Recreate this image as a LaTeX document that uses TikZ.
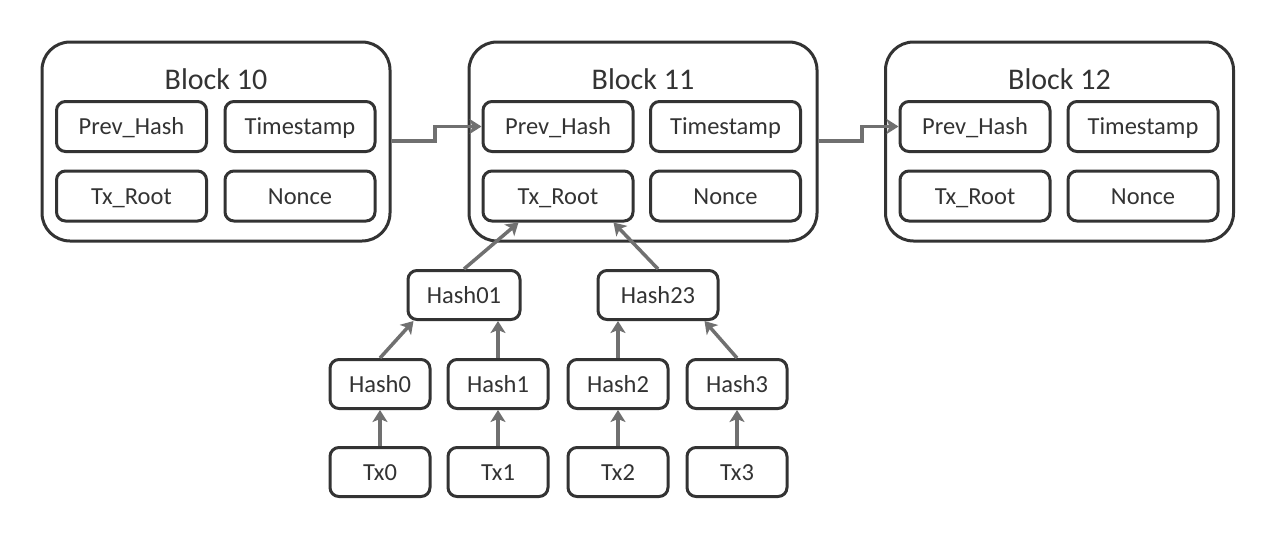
\documentclass[tikz,border=0pt]{standalone}
\usepackage{fontspec}
\setmainfont{Carlito}
\usetikzlibrary{arrows.meta}

\definecolor{edgegray}{HTML}{333333}
\definecolor{linkgray}{HTML}{707070}

\tikzset{
    block/.style={draw=edgegray, line width=3pt, rounded corners=28pt, fill=white,
                  minimum width=348pt, minimum height=199pt, inner sep=0pt},
    field/.style={draw=edgegray, line width=3pt, rounded corners=9pt, fill=white,
                  minimum width=150pt, minimum height=50pt, inner sep=0pt,
                  text height=21pt, text depth=5pt,
                  text=edgegray, font=\fontsize{24.5}{28}\selectfont},
    hashbox/.style={draw=edgegray, line width=3pt, rounded corners=9pt, fill=white,
                  minimum width=100pt, minimum height=49pt, inner sep=0pt,
                  text height=21pt, text depth=5pt,
                  text=edgegray, font=\fontsize{24.5}{28}\selectfont},
    title/.style={text=edgegray, font=\fontsize{30}{34}\selectfont},
    link/.style={draw=linkgray, line width=3.5pt,
                 -{Stealth[length=12pt, width=15pt, inset=3pt]}}
}

\begin{document}
\begin{tikzpicture}[x=1pt, y=-1pt]
    \useasboundingbox (0,0) rectangle (1276,541);

    % blocks
    \node[block](b10) at (216,141.5) {};
    \node[block](b11) at (643,141.5) {};
    \node[block](b12) at (1059.5,141.5) {};
    \node[title](t10) at (216,79) {Block 10};
    \node[title](t11) at (643,79) {Block 11};
    \node[title](t12) at (1059.5,79) {Block 12};

    % block header fields
    \node[field](p10) at (131.5,126.5) {Prev\_Hash};
    \node[field](s10) at (300,126.5)   {Timestamp};
    \node[field](r10) at (131.5,196)   {Tx\_Root};
    \node[field](n10) at (300,196)     {Nonce};
    \node[field](p11) at (558,126.5)   {Prev\_Hash};
    \node[field](s11) at (725.5,126.5) {Timestamp};
    \node[field](r11) at (558,196)     {Tx\_Root};
    \node[field](n11) at (725.5,196)   {Nonce};
    \node[field](p12) at (975,126.5)   {Prev\_Hash};
    \node[field](s12) at (1143,126.5)  {Timestamp};
    \node[field](r12) at (975,196)     {Tx\_Root};
    \node[field](n12) at (1143,196)    {Nonce};

    % merkle tree
    \node[hashbox, minimum width=112pt](h01) at (464,295) {Hash01};
    \node[hashbox, minimum width=120pt](h23) at (658,295) {Hash23};
    \node[hashbox](h0) at (380,384) {Hash0};
    \node[hashbox](h1) at (498,384) {Hash1};
    \node[hashbox](h2) at (618,384) {Hash2};
    \node[hashbox](h3) at (737,384) {Hash3};
    \node[hashbox](tx0) at (380,472) {Tx0};
    \node[hashbox](tx1) at (498,472) {Tx1};
    \node[hashbox](tx2) at (618,472) {Tx2};
    \node[hashbox](tx3) at (737,472) {Tx3};

    % chain links
    \coordinate (k1) at (435,141);
    \coordinate (k2) at (862,141);
    \draw[link] (b10.east |- k1) -- (k1) |- (p11.west);
    \draw[link] (b11.east |- k2) -- (k2) |- (p12.west);

    % tree links
    \draw[link] (tx0) -- (h0);
    \draw[link] (tx1) -- (h1);
    \draw[link] (tx2) -- (h2);
    \draw[link] (tx3) -- (h3);
    \draw[link] (h0.north) -- ([xshift=7pt]h01.south west);
    \draw[link] (h1.north) -- (h1.north |- h01.south);
    \draw[link] (h2.north) -- (h2.north |- h23.south);
    \draw[link] (h3.north) -- ([xshift=-15pt]h23.south east);
    \draw[link] (h01.north) -- ([xshift=-116pt]r11.south east);
    \draw[link] (h23.north) -- ([xshift=-21pt]r11.south east);
\end{tikzpicture}
\end{document}
